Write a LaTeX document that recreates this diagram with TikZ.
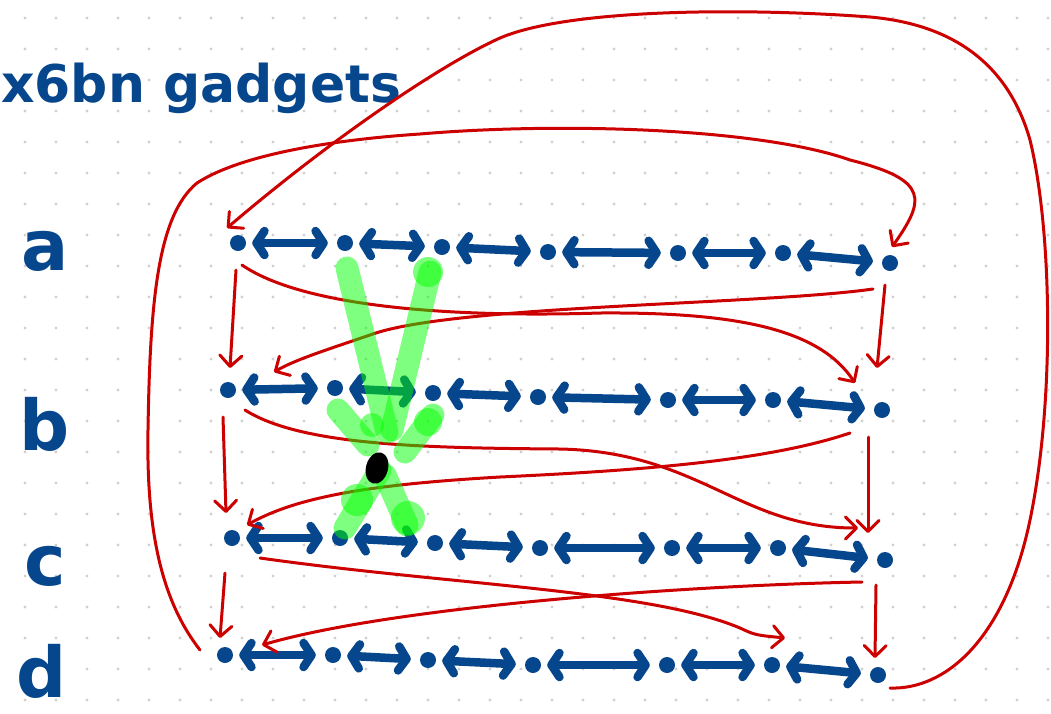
\documentclass[tikz,border=0pt]{standalone}
\usepackage{fontspec}
\setmainfont{DejaVu Sans}
\usetikzlibrary{arrows.meta}
\definecolor{ink}{RGB}{6,70,140}
\definecolor{redink}{RGB}{205,0,0}
\definecolor{gridgray}{RGB}{208,208,208}
\tikzset{
  dotn/.style={circle, fill=ink, inner sep=0pt, minimum size=16pt},
  blueconn/.style={draw=ink, line width=8.5pt, line cap=round,
    {Straight Barb[length=8pt,width=24pt,round]}-{Straight Barb[length=8pt,width=24pt,round]},
    shorten <=6pt, shorten >=9pt},
  redline/.style={draw=redink, line width=3pt, line cap=round, line join=round},
  redarr/.style={redline, -{Straight Barb[length=11pt,width=22pt,round]}},
  greenstroke/.style={draw=green, opacity=0.5, line width=23pt, line cap=round, line join=round},
  greenblob/.style={fill=green, opacity=0.5},
  rowlabel/.style={text=ink, font=\bfseries\fontsize{70}{70}\selectfont, inner sep=0pt, anchor=base},
  titletext/.style={text=ink, font=\bfseries\fontsize{52}{52}\selectfont, inner sep=0pt}
}
\begin{document}
\begin{tikzpicture}[x=1pt,y=-1pt]
\useasboundingbox (0,0) rectangle (1051,713);
\clip (0,0) rectangle (1051,713);
\fill[white] (0,0) rectangle (1051,713);
% dot grid
\foreach \i in {0,...,33}{\foreach \j in {0,...,22}{\fill[gridgray] ({25+31*\i},{18+31*\j}) circle (1.6);}}
% title and row labels
\node[titletext, anchor=base west] (title) at (1,102) {x6bn gadgets};
\node[rowlabel] (la) at (45,270) {a};
\node[rowlabel] (lb) at (45,450) {b};
\node[rowlabel] (lc) at (45,585) {c};
\node[rowlabel] (ld) at (42,697) {d};
% dots
\node[dotn] (a1) at (238,243) {}; \node[dotn] (a2) at (345,243) {}; \node[dotn] (a3) at (442,247) {};
\node[dotn] (a4) at (548,252) {}; \node[dotn] (a5) at (678,253) {}; \node[dotn] (a6) at (783,253) {};
\node[dotn] (a7) at (890,263) {};
\node[dotn] (b1) at (228,390) {}; \node[dotn] (b2) at (335,388) {}; \node[dotn] (b3) at (433,393) {};
\node[dotn] (b4) at (538,397) {}; \node[dotn] (b5) at (668,400) {}; \node[dotn] (b6) at (773,400) {};
\node[dotn] (b7) at (882,410) {};
\node[dotn] (c1) at (232,538) {}; \node[dotn] (c2) at (340,538) {}; \node[dotn] (c3) at (435,543) {};
\node[dotn] (c4) at (540,548) {}; \node[dotn] (c5) at (672,548) {}; \node[dotn] (c6) at (778,548) {};
\node[dotn] (c7) at (885,560) {};
\node[dotn] (d1) at (225,655) {}; \node[dotn] (d2) at (333,655) {}; \node[dotn] (d3) at (428,660) {};
\node[dotn] (d4) at (533,665) {}; \node[dotn] (d5) at (667,665) {}; \node[dotn] (d6) at (772,665) {};
\node[dotn] (d7) at (878,675) {};
\foreach \r in {a,b,c,d}{
  \foreach \i/\j in {1/2,2/3,3/4,4/5,5/6,6/7}{\draw[blueconn] (\r\i) -- (\r\j);}
}
% red connectors
\draw[redarr] ([shift={(12,13)}]d7.center) .. controls (945,690) and (1005,640) .. (1030,520)
  .. controls (1055,400) and (1052,230) .. (1030,140)
  .. controls (1010,70) and (960,25) .. (870,17)
  .. controls (750,8) and (570,8) .. (500,38)
  .. controls (440,65) and (330,140) .. ([shift={(-11,-15)}]a1.center);
\draw[redarr] ([shift={(-25,-5)}]d1.center) .. controls (165,605) and (146,540) .. (148,430)
  .. controls (150,300) and (158,215) .. (197,183)
  .. controls (240,155) and (330,140) .. (420,134)
  .. controls (560,122) and (760,128) .. (850,160)
  .. controls (930,180) and (925,200) .. ([shift={(2,-16)}]a7.center);
% vertical arrows
\draw[redarr] ([shift={(-2,27)}]a1.center) -- ([shift={(2,-22)}]b1.center);
\draw[redarr] ([shift={(-5,27)}]b1.center) -- ([shift={(-6,-25)}]c1.center);
\draw[redarr] ([shift={(-7,35)}]c1.center) -- ([shift={(-5,-17)}]d1.center);
\draw[redarr] ([shift={(-5,22)}]a7.center) -- ([shift={(-5,-42)}]b7.center);
\draw[redarr] ([shift={(-14,27)}]b7.center) -- ([shift={(-17,-27)}]c7.center);
\draw[redarr] ([shift={(-9,25)}]c7.center) -- ([shift={(-3,-17)}]d7.center);
% crossing arrows
\draw[redarr] ([shift={(4,22)}]a1.center) .. controls (300,305) and (440,318) .. (600,313)
  .. controls (740,312) and (820,330) .. ([shift={(-27,-27)}]b7.center);
\draw[redarr] ([shift={(-17,26)}]a7.center) .. controls (760,305) and (450,305) .. (370,335)
  .. controls (320,352) and (295,360) .. ([shift={(46,-18)}]b1.center);
\draw[redarr] ([shift={(17,20)}]b1.center) .. controls (300,445) and (420,448) .. (560,449)
  .. controls (700,452) and (740,528) .. ([shift={(-27,-32)}]c7.center);
\draw[redarr] ([shift={(-32,23)}]b7.center) .. controls (770,460) and (650,470) .. (500,477)
  .. controls (380,484) and (300,495) .. ([shift={(15,-13)}]c1.center);
\draw[redarr] ([shift={(28,20)}]c1.center) .. controls (450,585) and (650,590) .. (740,628)
  .. controls (755,635) .. ([shift={(13,-27)}]d6.center);
\draw[redarr] ([shift={(-23,22)}]c7.center) .. controls (700,585) and (400,605) .. ([shift={(37,-10)}]d1.center);
% green strokes
\draw[greenstroke] (347,268) -- (387,432);
\draw[greenstroke] (430,272) -- (392,430);
\fill[greenblob] (428,272) circle (15);
\draw[greenstroke] (338,410) -- (368,445);
\draw[greenstroke] (433,415) -- (405,452);
\fill[greenblob] (372,425) circle (12);
\fill[greenblob] (428,422) circle (14);
\draw[greenstroke] (380,470) -- (345,528);
\fill[greenblob] (357,500) circle (16);
\draw[greenstroke] (385,475) -- (407,525);
\fill[greenblob] (408,518) circle (17);
% black dot
\fill[black, rotate around={-15:(377,468)}] (377,468) ellipse (11 and 16);
\end{tikzpicture}
\end{document}
